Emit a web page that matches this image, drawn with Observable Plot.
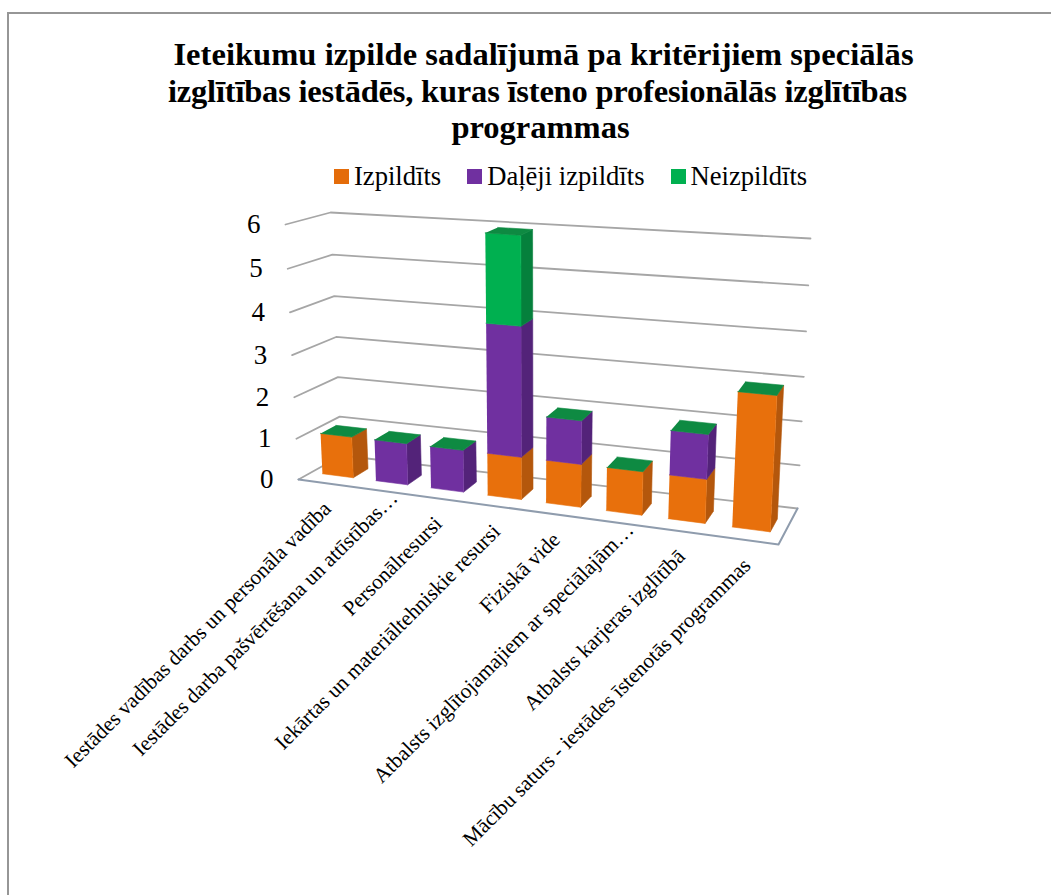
<!DOCTYPE html>
<html><head><meta charset="utf-8">
<script src="https://cdn.jsdelivr.net/npm/d3@7"></script>
<script src="https://cdn.jsdelivr.net/npm/@observablehq/plot@0.6"></script>
<style>
html,body{margin:0;padding:0;background:#fff;}
#page{position:relative;width:1051px;height:895px;overflow:hidden;font-family:"Liberation Serif",serif;color:#000;}
#frame{position:absolute;left:7px;top:12px;width:1100px;height:890px;border:2px solid #969696;box-sizing:border-box;}
#title{position:absolute;left:0;width:1081px;top:36px;text-align:center;font-weight:bold;font-size:32.5px;line-height:36.5px;white-space:nowrap;}
#title span{display:block;}
#legend{position:absolute;left:334px;top:162px;display:flex;align-items:center;font-size:26.6px;line-height:28px;white-space:nowrap;}
#legend i{display:inline-block;width:15px;height:15px;margin-right:5px;}
#legend span{margin-right:26px;}
#chart{position:absolute;left:0;top:200px;}
</style></head><body>
<div id="page"><div id="frame"></div>
<div id="title"><span style="letter-spacing:.05px;transform:translateX(3px)">Ieteikumu izpilde sadalījumā pa kritērijiem speciālās</span><span style="letter-spacing:-.2px;transform:translateX(-3px)">izglītības iestādēs, kuras īsteno profesionālās izglītības</span><span>programmas</span></div>
<div id="legend"></div>
<div id="chart"></div></div>
<script>
const categories = ["Iestādes vadības darbs un personāla vadība","Iestādes darba pašvērtēšana un attīstības…","Personālresursi","Iekārtas un materiāltehniskie resursi","Fiziskā vide","Atbalsts izglītojamajiem ar speciālajām…","Atbalsts karjeras izglītībā","Mācību saturs - iestādes īstenotās programmas"];
const izpildits = [1,0,0,1,1,1,1,3];
const daleji    = [0,1,1,3,1,0,1,0];
const neizpildits=[0,0,0,2,0,0,0,0];
const seriesNames = ["Izpildīts","Daļēji izpildīts","Neizpildīts"];
const yTicks = [0,1,2,3,4,5,6];

const faceColors = [
  {front:"#e8700c",side:"#b4570c"},
  {front:"#7030a0",side:"#532379"},
  {front:"#00b050",side:"#05803c"}
];
const topColor = "#0e8a42";
const legendColors = ["#e46c0a","#7030a0","#00b050"];

// oblique view of the box: category position u, value v, depth d -> view coordinates
const corners = {
  f0:[298,479], f1:[778,544], b0:[341,455], b1:[797,508],
  F0:[285,224], F1:[793,259], B0:[330,212], B1:[810,238]
};
const persp = (s,k) => s/(s+k*(1-s));
const lerp = (a,b,t) => [a[0]+(b[0]-a[0])*t, a[1]+(b[1]-a[1])*t];
function view(u,v,d){
  const t = persp(u/categories.length,1.127), h = persp(v/6,1.05);
  const low = lerp(lerp(corners.f0,corners.f1,t), lerp(corners.b0,corners.b1,t), d);
  const up  = lerp(lerp(corners.F0,corners.F1,t), lerp(corners.B0,corners.B1,t), d);
  return lerp(low,up,h);
}
const n = categories.length;
const gridRows = [];
yTicks.forEach(v=>{
  [[0,0],[0,1],[n,1]].forEach(([u,d])=>{const [x,y]=view(u,v,d);gridRows.push({x,y,id:"g"+v});});
});
const floorRows = [[0,0],[n,0],[n,1]].map(([u,d])=>{const [x,y]=view(u,0,d);return {x,y};});

const polys=[];
let pid=0;
function addPoly(pts,fill){pid++;pts.forEach(p=>{const [x,y]=view(...p);polys.push({x,y,id:pid,fill});});}
const u0=.21,u1=.79,d0=.3,d1=.66;
categories.forEach((c,i)=>{
  let base=0;
  [izpildits[i],daleji[i],neizpildits[i]].forEach((val,s)=>{
    if(val>0){
      const a=i+u0,b=i+u1,t=base+val;
      addPoly([[b,base,d0],[b,base,d1],[b,t,d1],[b,t,d0]],faceColors[s].side);
      addPoly([[a,base,d0],[b,base,d0],[b,t,d0],[a,t,d0]],faceColors[s].front);
    }
    base+=val;
  });
  addPoly([[i+u0,base,d0],[i+u1,base,d0],[i+u1,base,d1],[i+u0,base,d1]],topColor);
});
const yLabelRows = yTicks.map(v=>{const [x,y]=view(0,v,0);return {x,y,v};});
const xLabelRows = categories.map((c,i)=>{
  const [x,y]=view(i+.5,0,0);
  const cut=c.endsWith("…");
  return {x:x+(cut?12:0),y:y+(cut?-18:0),c};
});

const plot = Plot.plot({
  width:1051,height:695,margin:0,
  x:{domain:[0,1051],range:[0,1051],axis:null},
  y:{domain:[200,895],range:[0,695],axis:null},
  color:{type:"identity"},
  marks:[
    Plot.line(gridRows,{x:"x",y:"y",z:"id",stroke:"#a6a6a6",strokeWidth:1.8,curve:"linear"}),
    Plot.line(floorRows,{x:"x",y:"y",stroke:"#8f9cad",strokeWidth:2,curve:"linear"}),
    Plot.line(polys,{x:"x",y:"y",z:"id",fill:"fill",stroke:"fill",strokeWidth:.6,curve:"linear"}),
    Plot.text(yLabelRows,{x:"x",y:"y",text:d=>String(d.v),dx:-25,textAnchor:"end",fontSize:27,fontFamily:"Liberation Serif",fill:"#000"}),
    Plot.text(xLabelRows,{x:"x",y:"y",text:"c",rotate:-45,textAnchor:"end",dx:2,dy:22,fontSize:21.3,fontFamily:"Liberation Serif",fill:"#000"})
  ]
});
document.getElementById("chart").appendChild(plot);
const lg=document.getElementById("legend");
seriesNames.forEach((s,i)=>{
  const sw=document.createElement("i");sw.style.background=legendColors[i];
  const t=document.createElement("span");t.textContent=s;
  lg.append(sw,t);
});
</script></body></html>
